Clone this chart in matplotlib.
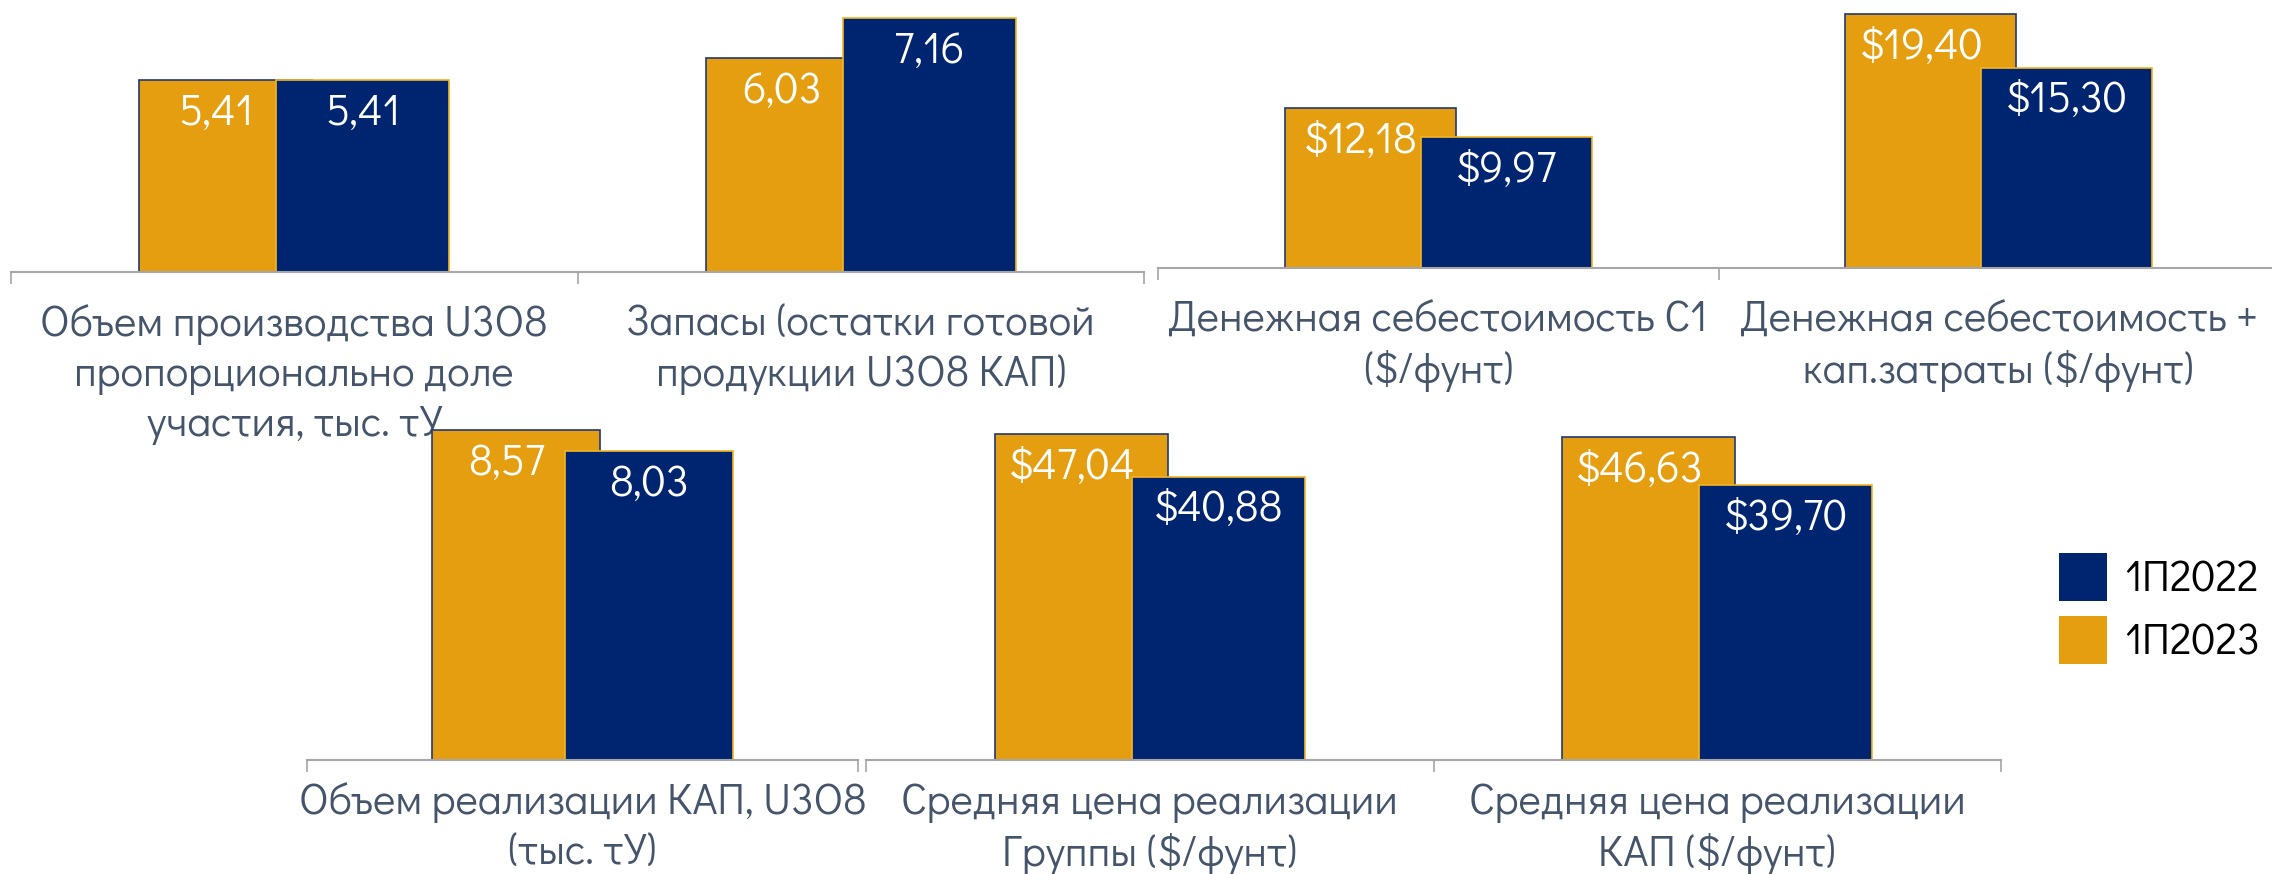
import matplotlib
matplotlib.use('Agg')
import matplotlib.pyplot as plt
import numpy as np
from matplotlib.patches import Patch

plt.rcParams['font.family'] = ['Didact Gothic', 'DejaVu Sans']

# ---------------- data ----------------
categories = [
    "Объем производства U3O8\nпропорционально доле\nучастия, тыс. тУ",
    "Запасы (остатки готовой\nпродукции U3O8 КАП)",
    "Денежная себестоимость С1\n($/фунт)",
    "Денежная себестоимость +\nкап.затраты ($/фунт)",
    "Объем реализации КАП, U3O8\n(тыс. тУ)",
    "Средняя цена реализации\nГруппы ($/фунт)",
    "Средняя цена реализации\nКАП ($/фунт)",
]
values_2023 = [5.41, 6.03, 12.18, 19.40, 8.57, 47.04, 46.63]
values_2022 = [5.41, 7.16, 9.97, 15.30, 8.03, 40.88, 39.70]
prefixes = ["", "", "$", "$", "", "$", "$"]
series_names = ["1П2022", "1П2023"]

# ---------------- style ----------------
ORANGE = '#E59E0F'
NAVY = '#002570'
ORANGE_EDGE = '#1F3A78'
NAVY_EDGE = '#F5B422'
AXIS_GRAY = '#A6A6A6'
LABEL_COLOR = '#44546A'

W, H, DPI = 2272, 874, 100
fig = plt.figure(figsize=(W / DPI, H / DPI), dpi=DPI)
fig.patch.set_facecolor('white')

# panel groups: indices, left px, right px, baseline px, top px, y max, label pad
groups = [
    ([0, 1], 11, 1144, 272, 0, 7.66, 23),
    ([2, 3], 1158, 2279, 268, 0, 20.46, 23),
    ([4], 307, 858, 760, 420, 8.84, 16),
    ([5, 6], 866, 2001, 760, 420, 49.06, 16),
]

BAR_W = 0.305
OFF = 0.121
FS_CAT = 30.5
FS_VAL = 31


def fmt(prefix, v):
    return prefix + f"{v:.2f}".replace('.', ',')


for idx, left, right, base, top, ymax, pad in groups:
    ax = fig.add_axes([left / W, 1 - base / H, (right - left) / W, (base - top) / H])
    n = len(idx)
    x = np.arange(n)
    v23 = [values_2023[i] for i in idx]
    v22 = [values_2022[i] for i in idx]
    ax.bar(x - OFF, v23, BAR_W, color=ORANGE, edgecolor=ORANGE_EDGE, linewidth=1.2, zorder=2)
    ax.bar(x + OFF, v22, BAR_W, color=NAVY, edgecolor=NAVY_EDGE, linewidth=1.2, zorder=2)
    for j, i in enumerate(idx):
        ax.annotate(fmt(prefixes[i], values_2023[i]), (x[j] - OFF, values_2023[i]),
                    xytext=(-7, -24), textcoords='offset points', ha='center', va='center',
                    color='white', fontsize=FS_VAL, zorder=5)
        ax.annotate(fmt(prefixes[i], values_2022[i]), (x[j] + OFF, values_2022[i]),
                    xytext=(0, -24), textcoords='offset points', ha='center', va='center',
                    color='white', fontsize=FS_VAL, zorder=5)
    ax.set_xlim(-0.5, n - 0.5)
    ax.set_ylim(0, ymax)
    ax.set_xticks(x)
    ax.set_xticklabels([categories[i] for i in idx], fontsize=FS_CAT, color=LABEL_COLOR,
                       linespacing=1.3)
    ax.set_xticks(np.arange(n + 1) - 0.5, minor=True)
    ax.tick_params(axis='x', which='major', length=0, pad=pad)
    ax.tick_params(axis='x', which='minor', length=8.6, width=1.2, color=AXIS_GRAY)
    ax.set_yticks([])
    for s in ['left', 'right', 'top']:
        ax.spines[s].set_visible(False)
    ax.spines['bottom'].set_color(AXIS_GRAY)
    ax.spines['bottom'].set_linewidth(1.5)
    ax.patch.set_alpha(0)

handles = [Patch(facecolor=NAVY, edgecolor='none'), Patch(facecolor=ORANGE, edgecolor='none')]
fig.legend(handles, series_names, loc='upper left', bbox_to_anchor=(2059 / W, 1 - 553 / H),
           frameon=False, fontsize=31, handlelength=1.116, handleheight=1.34,
           labelspacing=0.35, handletextpad=0.4, borderpad=0, borderaxespad=0, labelcolor='black')

fig.savefig('out.png', dpi=DPI, facecolor='white')
